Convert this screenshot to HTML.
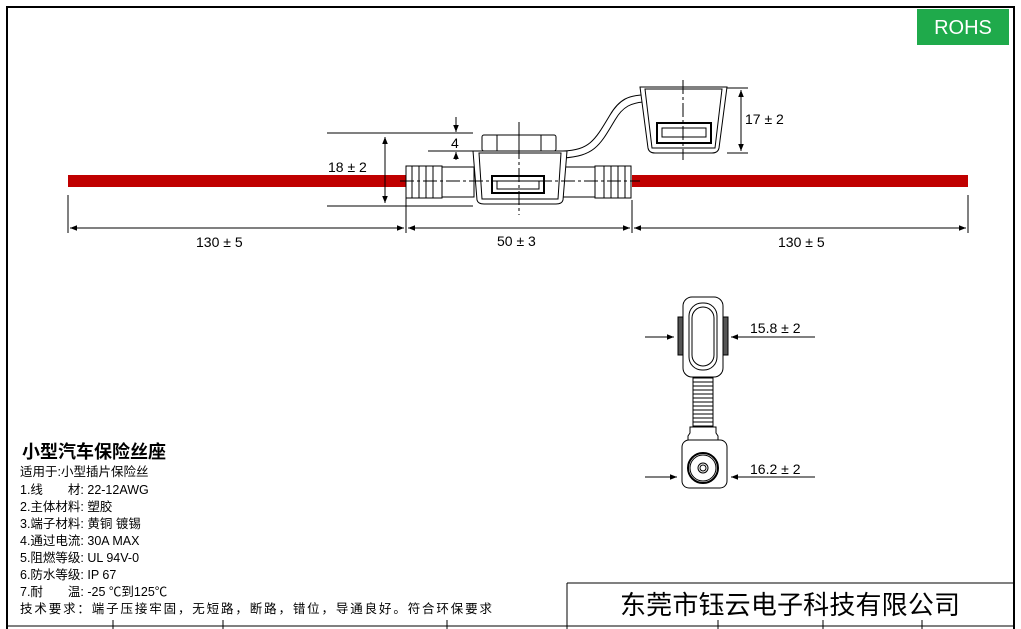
<!DOCTYPE html>
<html><head><meta charset="utf-8"><style>
body{margin:0;background:#fff}
svg{display:block}
text{font-family:"Liberation Sans","Noto Sans CJK SC",sans-serif}
.c{font-family:"Noto Sans CJK SC","WenQuanYi Zen Hei",sans-serif}
</style></head><body>
<svg width="1021" height="629" viewBox="0 0 1021 629" xmlns="http://www.w3.org/2000/svg">
<defs><marker id="a" viewBox="0 0 10 10" refX="10" refY="5" markerWidth="7" markerHeight="7" orient="auto-start-reverse"><path d="M0,1 L10,5 L0,9z" fill="#000"/></marker></defs>
<rect x="7" y="7" width="1007" height="625" fill="none" stroke="#000" stroke-width="2"/>
<rect x="917" y="9" width="92" height="36" fill="#1faa4b"/>
<text x="963" y="34" font-size="20" fill="#fff" text-anchor="middle">ROHS</text>
<rect x="68" y="175" width="338" height="12" fill="#c00000"/>
<rect x="632" y="175" width="336" height="12" fill="#c00000"/>
<g fill="none" stroke="#000" stroke-width="1">
<path d="M563,151 C590,150 595,140 610,115 C620,98 630,96 641,95"/>
<path d="M563,158 C595,156 600,145 615,120 C623,106 632,103 643,102"/>
<rect x="406" y="166" width="36" height="32" fill="#fff"/>
<line x1="412" y1="166" x2="412" y2="198"/><line x1="419" y1="166" x2="419" y2="198"/><line x1="426" y1="166" x2="426" y2="198"/><line x1="433" y1="166" x2="433" y2="198"/>
<rect x="442" y="167" width="32" height="30" fill="#fff"/>
<rect x="563" y="167" width="32" height="30" fill="#fff"/>
<rect x="595" y="166" width="36" height="32" fill="#fff"/>
<line x1="604" y1="166" x2="604" y2="198"/><line x1="611" y1="166" x2="611" y2="198"/><line x1="618" y1="166" x2="618" y2="198"/><line x1="625" y1="166" x2="625" y2="198"/>
<path d="M473,151 L567,151 L563,200 Q562,204 556,204 L484,204 Q478,204 477,200 Z" fill="#fff"/>
<path d="M479,153 L561,153 L558,199 L482,199 Z"/>
<rect x="482" y="135" width="74" height="16" rx="2" fill="#fff"/>
<line x1="497" y1="135" x2="497" y2="151"/><line x1="519" y1="135" x2="519" y2="151"/><line x1="541" y1="135" x2="541" y2="151"/>
<rect x="492" y="176" width="52" height="17" stroke-width="2"/>
<rect x="497" y="181" width="42" height="8"/>
<path d="M640,87 L727,87 L719,148 Q718,153 712,153 L655,153 Q649,153 648,148 Z" fill="#fff"/>
<path d="M645,89 L722,89 L715,148 L652,148 Z"/>
<rect x="657" y="123" width="54" height="20" stroke-width="2"/>
<rect x="662" y="128" width="44" height="9"/>
<line x1="519" y1="122" x2="519" y2="215" stroke-dasharray="14,3,3,3"/>
<line x1="683" y1="80" x2="683" y2="160" stroke-dasharray="14,3,3,3"/>
<line x1="400" y1="181" x2="640" y2="181" stroke-dasharray="14,3,3,3"/>
<line x1="327" y1="133" x2="473" y2="133"/><line x1="327" y1="206" x2="473" y2="206"/>
<line x1="428" y1="151" x2="480" y2="151"/>
<line x1="385" y1="137" x2="385" y2="203" marker-start="url(#a)" marker-end="url(#a)"/>
<line x1="456" y1="117" x2="456" y2="132" marker-end="url(#a)"/>
<line x1="456" y1="160" x2="456" y2="152" marker-end="url(#a)"/>
<line x1="727" y1="88" x2="748" y2="88"/><line x1="727" y1="153" x2="748" y2="153"/>
<line x1="741" y1="90" x2="741" y2="151" marker-start="url(#a)" marker-end="url(#a)"/>
<line x1="68" y1="195" x2="68" y2="233"/><line x1="406" y1="195" x2="406" y2="233"/><line x1="632" y1="200" x2="632" y2="233"/><line x1="968" y1="195" x2="968" y2="233"/>
<line x1="70" y1="228" x2="404" y2="228" marker-start="url(#a)" marker-end="url(#a)"/>
<line x1="408" y1="228" x2="630" y2="228" marker-start="url(#a)" marker-end="url(#a)"/>
<line x1="634" y1="228" x2="966" y2="228" marker-start="url(#a)" marker-end="url(#a)"/>
<rect x="678" y="317" width="6" height="38" fill="#555"/><rect x="722" y="317" width="6" height="38" fill="#555"/>
<rect x="683" y="297" width="40" height="80" rx="9" fill="#fff"/>
<rect x="689" y="303" width="28" height="67" rx="13"/>
<rect x="692" y="307" width="22" height="59" rx="11"/>
<rect x="693" y="378" width="20" height="48" fill="#fff"/>
<path d="M693,382h20M693,386h20M693,390h20M693,394h20M693,398h20M693,402h20M693,406h20M693,410h20M693,414h20M693,418h20M693,422h20"/>
<path d="M690,427 h26 v6 l2,3 v4 h-30 v-4 l2,-3z" fill="#fff"/>
<rect x="682" y="440" width="45" height="48" rx="7" fill="#fff"/>
<circle cx="703" cy="468" r="15" stroke-width="2"/><circle cx="703" cy="468" r="13"/>
<circle cx="703" cy="468" r="5"/><circle cx="703" cy="468" r="3"/>
<line x1="645" y1="337" x2="674" y2="337" marker-end="url(#a)"/>
<line x1="815" y1="337" x2="731" y2="337" marker-end="url(#a)"/>
<line x1="645" y1="477" x2="677" y2="477" marker-end="url(#a)"/>
<line x1="815" y1="477" x2="731" y2="477" marker-end="url(#a)"/>
<line x1="567" y1="583" x2="1014" y2="583"/><line x1="567" y1="583" x2="567" y2="629"/>
<line x1="8" y1="626" x2="1014" y2="626"/>
<line x1="113" y1="620" x2="113" y2="629"/><line x1="223" y1="620" x2="223" y2="629"/><line x1="447" y1="620" x2="447" y2="629"/>
<line x1="718" y1="620" x2="718" y2="629"/><line x1="823" y1="620" x2="823" y2="629"/><line x1="922" y1="620" x2="922" y2="629"/>
</g>
<g font-size="14">
<text x="328" y="172">18 ± 2</text>
<text x="451" y="148">4</text>
<text x="745" y="124">17 ± 2</text>
<text x="196" y="247">130 ± 5</text>
<text x="497" y="246">50 ± 3</text>
<text x="778" y="247">130 ± 5</text>
<text x="750" y="333">15.8 ± 2</text>
<text x="750" y="474">16.2 ± 2</text>
</g>
<g class="c" font-size="12.5">
<text x="22" y="458" font-size="18" font-weight="bold">小型汽车保险丝座</text>
<text x="20" y="476">适用于:小型插片保险丝</text>
<text x="20" y="494">1.线　　材: 22-12AWG</text>
<text x="20" y="511">2.主体材料: 塑胶</text>
<text x="20" y="528">3.端子材料: 黄铜 镀锡</text>
<text x="20" y="545">4.通过电流: 30A MAX</text>
<text x="20" y="562">5.阻燃等级: UL 94V-0</text>
<text x="20" y="579">6.防水等级: IP 67</text>
<text x="20" y="596">7.耐　　温: -25 ℃到125℃</text>
<text x="20" y="613" textLength="472" lengthAdjust="spacing">技术要求：端子压接牢固，无短路，断路，错位，导通良好。符合环保要求</text>
<text x="620" y="614" font-size="26" textLength="340" lengthAdjust="spacing" font-family="Noto Serif CJK SC,serif">东莞市钰云电子科技有限公司</text>
</g>
</svg>
</body></html>
